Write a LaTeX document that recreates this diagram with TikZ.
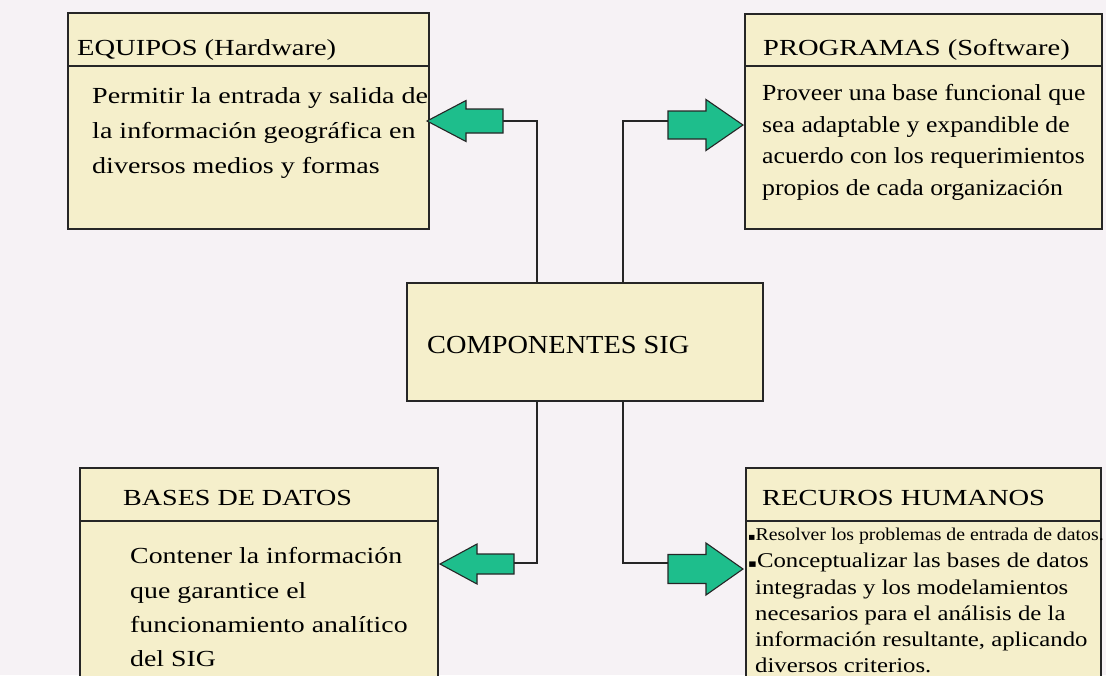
\documentclass[tikz,border=0pt]{standalone}
\usepackage{fontspec}
\usepackage{graphicx}
\setmainfont{Liberation Serif}
\newfontfamily\bulletfont{DejaVu Sans}
\newcommand\hstretch[2]{\scalebox{#1}[1]{#2}}
\definecolor{bgcol}{HTML}{F6F2F5}
\definecolor{boxfill}{HTML}{F5EFCB}
\definecolor{arrowfill}{HTML}{1EBE8C}
\definecolor{edgecol}{HTML}{262626}
\begin{document}
\begin{tikzpicture}[x=1pt,y=-1pt,
  box/.style={draw=edgecol, line width=1.6pt, fill=boxfill, inner sep=0pt, anchor=north west},
  divider/.style={draw=edgecol, line width=1.6pt},
  link/.style={draw=edgecol, line width=1.5pt},
  fatarrow/.style={draw=edgecol, line width=1.1pt, fill=arrowfill, line join=miter},
  txt/.style={anchor=base west, inner sep=0pt},
  headtxt/.style={txt, font=\fontsize{23}{23}\selectfont},
  bodytxt/.style={txt, font=\fontsize{23}{23}\selectfont},
  rhtxt/.style={txt, font=\fontsize{21}{21}\selectfont},
  smalltxt/.style={txt, font=\fontsize{18}{18}\selectfont},
  centertxt/.style={txt, font=\fontsize{26}{26}\selectfont},
]
\useasboundingbox (0,0) rectangle (1106,675);
\clip (0,0) rectangle (1106,675);
\fill[bgcol] (0,0) rectangle (1106,675);

% boxes
\node[box, minimum width=361pt, minimum height=216pt] (eq) at (67,12) {};
\node[box, minimum width=357pt, minimum height=215pt] (pr) at (744,13) {};
\node[box, minimum width=356pt, minimum height=118pt] (cen) at (406,282) {};
\node[box, minimum width=358pt, minimum height=230pt] (bd) at (79,467) {};
\node[box, minimum width=355pt, minimum height=230pt] (rh) at (745,467) {};

% header dividers
\coordinate (deq) at (0,66);
\coordinate (dbd) at (0,521);
\draw[divider] (eq.west |- deq) -- (eq.east |- deq);
\draw[divider] (pr.west |- deq) -- (pr.east |- deq);
\draw[divider] (bd.west |- dbd) -- (bd.east |- dbd);
\draw[divider] (rh.west |- dbd) -- (rh.east |- dbd);

% connector junctions and arrow tails
\coordinate (jTL) at (537,121);
\coordinate (jTR) at (623,121);
\coordinate (jBL) at (537,563);
\coordinate (jBR) at (623,563);
\coordinate (tTL) at (503,121);
\coordinate (tTR) at (668,121);
\coordinate (tBL) at (514,563);
\coordinate (tBR) at (668,563);

\draw[link] (cen.north -| jTL) -- (jTL) -- (tTL);
\draw[link] (cen.north -| jTR) -- (jTR) -- (tTR);
\draw[link] (cen.south -| jBL) -- (jBL) -- (tBL);
\draw[link] (cen.south -| jBR) -- (jBR) -- (tBR);

% block arrows
\draw[fatarrow] (427,121) -- (466,100.5) -- (466,109) -- (503,109) -- (503,133) -- (466,133) -- (466,141.5) -- cycle;
\draw[fatarrow] (743,125) -- (706,99.5) -- (706,111) -- (668,111) -- (668,139) -- (706,139) -- (706,150.5) -- cycle;
\draw[fatarrow] (440,564) -- (477,544) -- (477,554) -- (514,554) -- (514,574) -- (477,574) -- (477,584) -- cycle;
\draw[fatarrow] (743,569) -- (706,543) -- (706,554.5) -- (668,554.5) -- (668,583.5) -- (706,583.5) -- (706,595) -- cycle;

% texts: EQUIPOS
\node[headtxt] (eqh) at (77,55) {\hstretch{1.24}{EQUIPOS (Hardware)}};
\node[bodytxt] (eq1) at (92,103) {\hstretch{1.22}{Permitir la entrada y salida de}};
\node[bodytxt] (eq2) at (92,138) {\hstretch{1.22}{la información geográfica en}};
\node[bodytxt] (eq3) at (92,173) {\hstretch{1.22}{diversos medios y formas}};

% PROGRAMAS
\node[headtxt] (prh) at (763,55) {\hstretch{1.24}{PROGRAMAS (Software)}};
\node[bodytxt] (pr1) at (762,100) {\hstretch{1.12}{Proveer una base funcional que}};
\node[bodytxt] (pr2) at (762,132) {\hstretch{1.12}{sea adaptable y expandible de}};
\node[bodytxt] (pr3) at (762,163) {\hstretch{1.12}{acuerdo con los requerimientos}};
\node[bodytxt] (pr4) at (762,195) {\hstretch{1.12}{propios de cada organización}};

% center
\node[centertxt] (cent) at (427,353) {\hstretch{1.09}{COMPONENTES SIG}};

% BASES DE DATOS
\node[headtxt] (bdh) at (123,505) {\hstretch{1.22}{BASES DE DATOS}};
\node[bodytxt] (bd1) at (130,563) {\hstretch{1.21}{Contener la información}};
\node[bodytxt] (bd2) at (130,598) {\hstretch{1.21}{que garantice el}};
\node[bodytxt] (bd3) at (130,632) {\hstretch{1.21}{funcionamiento analítico}};
\node[bodytxt] (bd4) at (130,666) {\hstretch{1.21}{del SIG}};

% RECURSOS HUMANOS
\node[headtxt] (rhh) at (762,505) {\hstretch{1.24}{RECUROS HUMANOS}};
\node[smalltxt] (rh0) at (748,540) {\hstretch{1.1}{{\bulletfont\fontsize{10}{10}\selectfont ▪}Resolver los problemas de entrada de datos.}};
\node[rhtxt] (rh1) at (748,567) {\hstretch{1.18}{{\bulletfont\fontsize{11}{11}\selectfont ▪}Conceptualizar las bases de datos}};
\node[rhtxt] (rh2) at (755,594) {\hstretch{1.18}{integradas y los modelamientos}};
\node[rhtxt] (rh3) at (755,620) {\hstretch{1.18}{necesarios para el análisis de la}};
\node[rhtxt] (rh4) at (755,646) {\hstretch{1.18}{información resultante, aplicando}};
\node[rhtxt] (rh5) at (755,672) {\hstretch{1.18}{diversos criterios.}};
\end{tikzpicture}
\end{document}
